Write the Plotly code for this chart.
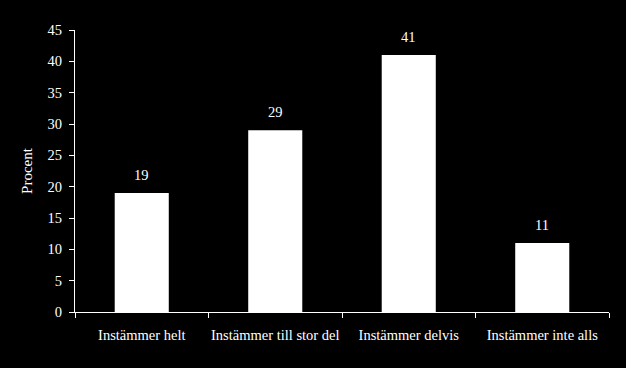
import plotly.graph_objects as go

categories = ["Instämmer helt", "Instämmer till stor del", "Instämmer delvis", "Instämmer inte alls"]
values = [19, 29, 41, 11]

font_family = "Liberation Serif, Times New Roman, serif"

fig = go.Figure(go.Bar(
    x=categories, y=values,
    marker=dict(color="white", line=dict(width=0)),
    cliponaxis=False, width=0.405,
))

for c, v in zip(categories, values):
    fig.add_annotation(x=c, y=v, text=str(v), showarrow=False,
                       yanchor="bottom", yshift=8,
                       font=dict(color="white", size=14.5, family=font_family))

fig.update_layout(
    width=626, height=368,
    paper_bgcolor="black", plot_bgcolor="black",
    margin=dict(l=75, r=17, t=30, b=56, autoexpand=False),
    font=dict(family=font_family, color="white", size=14.5),
    showlegend=False,
    xaxis=dict(showline=True, linecolor="white", linewidth=1,
               ticks="outside", tickson="boundaries", ticklen=5, tickcolor="white",
               showgrid=False, tickfont=dict(size=14.5), ticklabelstandoff=10,
               tickangle=0, automargin=False),
    yaxis=dict(range=[0, 45], dtick=5, showline=True, linecolor="white", linewidth=1,
               ticks="outside", ticklen=5, tickcolor="white", showgrid=False,
               zeroline=False, tickfont=dict(size=14.5), ticklabelstandoff=4,
               automargin=False,
               title=dict(text="Procent", font=dict(size=15), standoff=11)),
)

fig.write_html("out.html")
